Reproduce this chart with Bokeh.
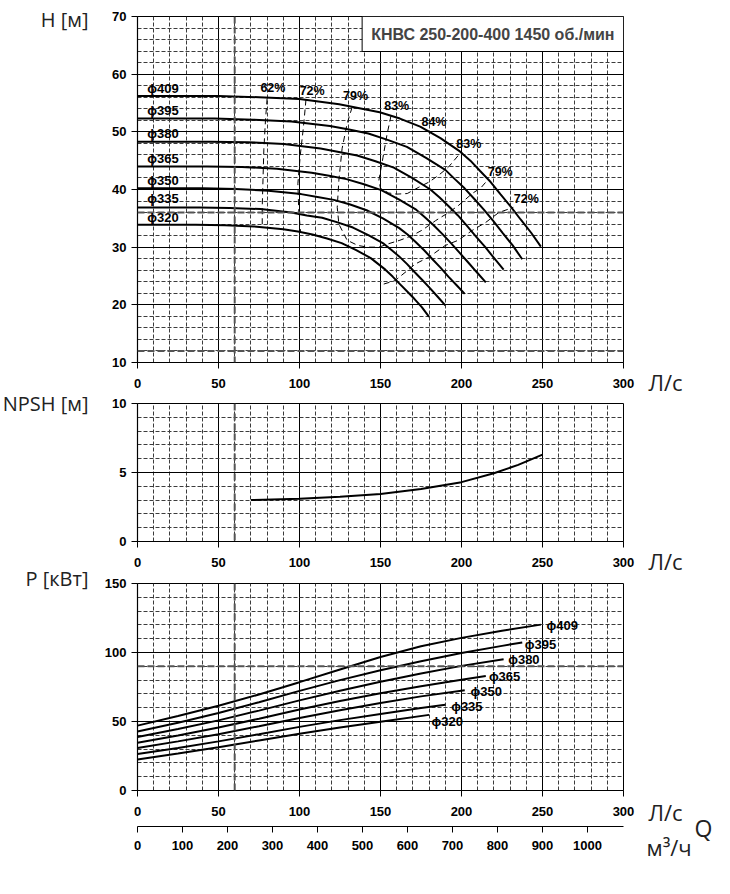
from bokeh.plotting import figure
from bokeh.models import Range1d, LinearAxis, SingleIntervalTicker, Label, Span
from bokeh.layouts import column, row
from bokeh.embed import file_html
from bokeh.resources import INLINE
from bokeh.core.properties import value

# ---------------- data ----------------
diam_labels = ["ϕ409", "ϕ395", "ϕ380", "ϕ365", "ϕ350", "ϕ335", "ϕ320"]

# Head H [m] vs Q [l/s]
q_h409 = [0, 25, 50, 75, 100, 124.5, 137, 149.5, 162, 174.5, 187, 199, 205.5, 211.5, 218, 224, 230.5, 236.5, 243, 249]
h_409 = [56.2, 56.2, 56.2, 56.0, 55.7, 54.8, 54.1, 53.4, 52.3, 50.9, 48.9, 46.6, 45.0, 43.2, 41.3, 39.2, 37.0, 34.8, 32.5, 30.1]
q_h395 = [0, 23.8, 47.5, 71.3, 95, 118.8, 130.6, 142.5, 154.4, 166.3, 178.1, 190, 195.9, 201.9, 207.8, 213.8, 219.7, 225.6, 231.6, 237.5]
h_395 = [52.3, 52.3, 52.3, 52.1, 51.8, 51.0, 50.4, 49.7, 48.6, 47.4, 45.5, 43.4, 41.8, 40.2, 38.4, 36.5, 34.5, 32.4, 30.3, 27.9]
q_h380 = [0, 22.6, 45.2, 67.8, 90.4, 113, 124.3, 135.6, 146.9, 158.2, 169.5, 180.8, 186.5, 192.1, 197.8, 203.4, 209.1, 214.7, 220.4, 226]
h_380 = [48.3, 48.3, 48.3, 48.2, 47.9, 47.1, 46.5, 45.9, 44.9, 43.8, 42.0, 40.0, 38.6, 37.1, 35.5, 33.7, 31.8, 30.0, 28.0, 26.1]
q_h365 = [0, 21.5, 43, 64.5, 86, 107.5, 118.3, 129, 139.8, 150.5, 161.3, 172, 177.4, 182.8, 188.1, 193.5, 198.9, 204.3, 209.6, 215]
h_365 = [44.0, 44.0, 44.0, 43.9, 43.6, 42.9, 42.4, 41.8, 40.9, 39.9, 38.3, 36.5, 35.2, 33.8, 32.3, 30.7, 29.0, 27.3, 25.6, 23.9]
q_h350 = [0, 20.2, 40.4, 60.6, 80.8, 101, 111.1, 121.2, 131.3, 141.4, 151.5, 161.6, 166.7, 171.7, 176.8, 181.8, 186.9, 191.9, 197, 202]
h_350 = [40.2, 40.2, 40.2, 40.1, 39.8, 39.2, 38.7, 38.2, 37.4, 36.4, 35.0, 33.3, 32.2, 30.9, 29.5, 28.0, 26.5, 24.9, 23.4, 21.9]
q_h335 = [0, 19, 38, 57, 76, 95, 104.5, 114, 123.5, 133, 142.5, 152, 156.8, 161.5, 166.3, 171, 175.8, 180.5, 185.3, 190]
h_335 = [36.9, 36.9, 36.9, 36.8, 36.6, 36.0, 35.5, 35.1, 34.3, 33.4, 32.1, 30.6, 29.5, 28.4, 27.1, 25.7, 24.3, 22.9, 21.4, 19.9]
q_h320 = [0, 18, 36, 54, 72, 90, 99, 108, 117, 126, 135, 144, 148.5, 153, 157.5, 162, 166.5, 171, 175.5, 180]
h_320 = [33.9, 33.9, 33.9, 33.8, 33.6, 33.1, 32.7, 32.2, 31.5, 30.7, 29.5, 28.1, 27.1, 26.1, 24.9, 23.6, 22.3, 21.0, 19.6, 17.9]

# Iso-efficiency lines
eff_labels = ["62%", "72%", "79%", "83%", "84%", "83%", "79%", "72%"]
q_e62 = [80, 79, 78, 77.5, 77, 77]
h_e62 = [55.8, 52, 47, 42, 37, 33.5]
q_e72a = [104, 102.5, 100.5, 99, 99.5, 100.6]
h_e72a = [55.6, 51, 46, 41, 36.5, 32.8]
q_e79 = [132.5, 129.4, 126.3, 124.3, 123.3, 124.3, 129.4, 136, 142, 149, 155, 162, 169.5, 176, 184, 192, 198, 206.6, 212, 216]
h_e79 = [54.3, 51.4, 47.1, 41.6, 36.9, 34.0, 31.2, 30.3, 30.0, 30.0, 30.6, 31.2, 32.0, 33.0, 34.6, 36.0, 37.2, 39.3, 40.3, 41.6]
q_e83 = [156.5, 154, 151.5, 149, 150, 155, 160, 166.5, 173.7, 180, 186, 192, 198, 200.5]
h_e83 = [52.8, 49.5, 45.5, 41.6, 40.2, 39.4, 39.2, 39.3, 40.4, 41.3, 42.5, 43.9, 45.9, 46.4]
q_e72b = [152, 159, 171.6, 180, 190, 198, 206.6, 215, 223, 232]
h_e72b = [23.6, 24.2, 27.1, 28.3, 30.3, 31.2, 32.9, 34.3, 36.0, 36.9]

# NPSH [m]
q_npsh = [70, 100, 125, 150, 175, 200, 220, 235, 250]
npsh = [3.0, 3.1, 3.25, 3.45, 3.8, 4.3, 4.95, 5.55, 6.3]

# Power P [kW]
q_p409 = [0, 25, 50, 75, 100, 125, 150, 175, 200, 225, 249]
p_409 = [47.0, 54.0, 61.4, 69.6, 78.5, 87.7, 96.7, 104.5, 110.6, 115.8, 120.2]
q_p395 = [0, 25, 50, 75, 100, 125, 150, 175, 200, 225, 237.5]
p_395 = [42.7, 49.1, 56.2, 64.0, 72.2, 80.0, 87.2, 93.7, 99.6, 104.8, 107.3]
q_p380 = [0, 25, 50, 75, 100, 125, 150, 175, 200, 226]
p_380 = [38.8, 44.5, 50.8, 57.9, 65.3, 72.3, 78.8, 84.8, 90.3, 95.1]
q_p365 = [0, 25, 50, 75, 100, 125, 150, 175, 200, 215]
p_365 = [34.6, 39.8, 45.6, 52.0, 58.7, 64.8, 70.4, 75.5, 80.3, 82.9]
q_p350 = [0, 25, 50, 75, 100, 125, 150, 175, 202]
p_350 = [30.8, 35.6, 40.8, 46.6, 52.6, 58.2, 63.4, 68.2, 72.7]
q_p335 = [0, 25, 50, 75, 100, 125, 150, 175, 190]
p_335 = [26.4, 30.8, 35.6, 40.8, 46.1, 51.0, 55.5, 59.7, 62.1]
q_p320 = [0, 25, 50, 75, 100, 125, 150, 180]
p_320 = [22.5, 26.8, 31.4, 36.3, 41.2, 45.7, 49.9, 54.8]

x_ticks_step = 50
m3h_ticks_step = 100
q_max_ls = 300
ls_to_m3h = 3.6
op_q = 60
h_ref_lines = [36, 12]
p_ref_lines = [90]

title_text = "КНВС 250-200-400 1450 об./мин"
name_texts = ["H [м]", "NPSH [м]", "P [кВт]"]
unit_texts = ["Л/с", "Л/с", "Л/с", "м³/ч"]

# label placement (layout only)
h_lab_q = 6
h_lab_y = [57.5, 53.7, 49.7, 45.3, 41.6, 38.4, 35.2]
eff_lab_q = [83.6, 107.8, 134.6, 160, 183, 204.5, 223.9, 240]
eff_lab_h = [57.6, 57.0, 56.2, 54.4, 51.7, 47.9, 43.0, 38.4]
p_lab_q = [252.5, 239, 228.8, 216.9, 205.6, 193.6, 181.5]
p_lab_p = [119.9, 106, 95, 82.4, 71.4, 60.9, 49.9]
# side-panel text positions, page pixels
name_x = [88, 88, 88]
name_y = [19, 403, 578]
unit_x = [648, 648, 648, 646]
unit_y = [381, 560, 811, 846]
q_sym_x = [694]
q_sym_y = [827]

# ---------------- style ----------------
TICK_FONT = "Liberation Sans"
NAME_FONT = "Open Sans"
FW = 486
ML, MR = 42, 17
LEFT_W, RIGHT_W = 95, 88
TOTAL_H = 860


def style_axis(ax, tick_out=6):
    ax.major_tick_in = 0
    ax.major_tick_out = tick_out
    ax.minor_tick_line_color = None
    ax.axis_line_color = "black"
    ax.axis_line_width = 1.2
    ax.major_tick_line_color = "black"
    ax.major_label_text_font = TICK_FONT
    ax.major_label_text_font_style = "bold"
    ax.major_label_text_font_size = "13px"
    ax.major_label_text_color = "black"


def base_fig(y0, y1, fh, ystep, mb_top, mb_bottom):
    p = figure(frame_width=FW, frame_height=fh,
               x_range=Range1d(0, q_max_ls), y_range=Range1d(y0, y1),
               min_border_left=ML, min_border_right=MR,
               min_border_top=mb_top, min_border_bottom=mb_bottom,
               output_backend="svg", toolbar_location=None, tools="")
    xt = SingleIntervalTicker(interval=x_ticks_step, num_minor_ticks=5)
    yt = SingleIntervalTicker(interval=ystep, num_minor_ticks=5)
    p.xaxis.ticker = xt
    p.yaxis.ticker = yt
    p.xgrid.ticker = xt
    p.ygrid.ticker = yt
    for g in (p.xgrid, p.ygrid):
        g.grid_line_color = "black"
        g.grid_line_width = 1
        g.minor_grid_line_color = "#3c3c3c"
        g.minor_grid_line_dash = "4 2"
        g.minor_grid_line_width = 1
    for ax in p.axis:
        style_axis(ax)
    p.xaxis.major_label_standoff = 10
    p.yaxis.major_label_standoff = 5
    p.outline_line_color = "black"
    p.outline_line_width = 1
    p.background_fill_color = "white"
    p.border_fill_color = "white"
    p.add_layout(Span(location=op_q, dimension="height", line_color="#555555",
                      line_width=2, line_dash="7 3"))
    return p


def txt(p, x, y, text, size, align="left"):
    p.add_layout(Label(x=x, y=y, text=text, text_font=TICK_FONT, text_font_style="bold",
                       text_font_size=size, text_align=align, text_baseline="middle",
                       text_color="black"))


# ---------------- H chart ----------------
f1 = base_fig(10, 70, 346, 10, 16, 33)
for loc in h_ref_lines:
    f1.add_layout(Span(location=loc, dimension="width", line_color="#555555",
                       line_width=2, line_dash="7 3"))
for q, h in [(q_e62, h_e62), (q_e72a, h_e72a), (q_e79, h_e79), (q_e83, h_e83), (q_e72b, h_e72b)]:
    f1.line(q, h, line_color="black", line_width=1, line_dash="6 4")
h_curves = [(q_h409, h_409), (q_h395, h_395), (q_h380, h_380), (q_h365, h_365),
            (q_h350, h_350), (q_h335, h_335), (q_h320, h_320)]
for q, h in h_curves:
    f1.line(q, h, line_color="black", line_width=2)
for lab, y in zip(diam_labels, h_lab_y):
    txt(f1, h_lab_q, y, lab, "13px")
for lab, x, y in zip(eff_labels, eff_lab_q, eff_lab_h):
    txt(f1, x, y, lab, "12.5px", align="center")
f1.add_layout(Label(x=q_max_ls, y=70, text=title_text, text_font=TICK_FONT,
                    text_font_style="bold", text_font_size="16px",
                    text_align="right", text_baseline="top", anchor="top_right",
                    background_fill_color="white", border_line_color="black",
                    border_line_width=1, padding=9))

# ---------------- NPSH chart ----------------
f2 = base_fig(0, 10, 138, 5, 8, 34)
f2.line(q_npsh, npsh, line_color="black", line_width=2)

# ---------------- P chart ----------------
f3 = base_fig(0, 150, 207, 50, 8, 70)
for loc in p_ref_lines:
    f3.add_layout(Span(location=loc, dimension="width", line_color="#555555",
                       line_width=2, line_dash="7 3"))
p_curves = [(q_p409, p_409), (q_p395, p_395), (q_p380, p_380), (q_p365, p_365),
            (q_p350, p_350), (q_p335, p_335), (q_p320, p_320)]
for q, pv in p_curves:
    f3.line(q, pv, line_color="black", line_width=2)
for lab, x, y in zip(diam_labels, p_lab_q, p_lab_p):
    txt(f3, x, y, lab, "13px")
f3.xaxis[0].axis_label = " "
f3.xaxis[0].axis_label_text_font_size = "4px"
f3.xaxis[0].axis_label_standoff = 0
f3.extra_x_ranges = {"m3h": Range1d(0, q_max_ls * ls_to_m3h)}
ax2 = LinearAxis(x_range_name="m3h", ticker=SingleIntervalTicker(interval=m3h_ticks_step))
style_axis(ax2)
ax2.major_label_standoff = 8
f3.add_layout(ax2, "below")


# ---------------- side text panels ----------------
def side_fig(x0, w):
    s = figure(width=w, height=TOTAL_H, x_range=Range1d(x0, x0 + w), y_range=Range1d(TOTAL_H, 0),
               min_border=0, x_axis_type=None, y_axis_type=None,
               output_backend="svg", toolbar_location=None, tools="")
    s.grid.visible = False
    s.outline_line_color = None
    s.background_fill_color = "white"
    s.border_fill_color = "white"
    return s


left = side_fig(0, LEFT_W)
left.text(x=name_x, y=name_y, text=name_texts, text_font=value(NAME_FONT),
          text_font_size="20px", text_align="right", text_baseline="middle",
          text_color="#222222")

right_x0 = LEFT_W + ML + FW + MR
right = side_fig(right_x0, RIGHT_W)
right.text(x=unit_x, y=unit_y, text=unit_texts, text_font=value(NAME_FONT),
           text_font_size="22px", text_align="left", text_baseline="middle",
           text_color="#222222")
right.text(x=q_sym_x, y=q_sym_y, text=["Q"], text_font=value(NAME_FONT),
           text_font_size="23px", text_align="left", text_baseline="middle",
           text_color="#222222")

page = row(left, column(f1, f2, f3), right)
open("out.html", "w").write(file_html(page, INLINE))
